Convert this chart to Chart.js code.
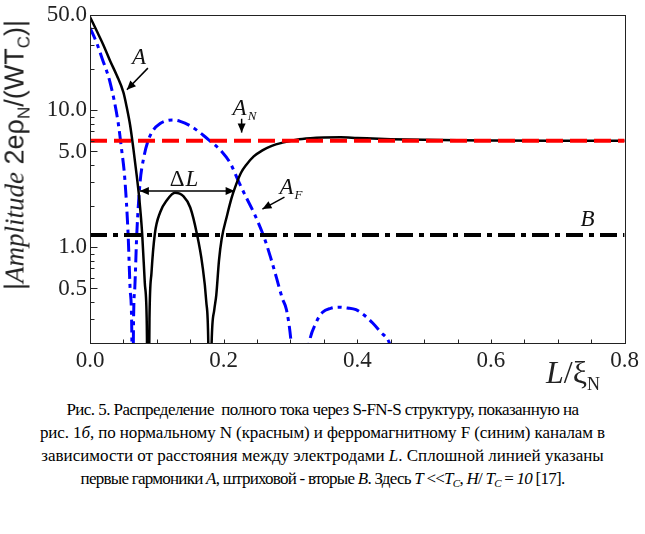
<!DOCTYPE html>
<html>
<head>
<meta charset="utf-8">
<script src="https://cdn.jsdelivr.net/npm/chart.js@4.4.0/dist/chart.umd.min.js"></script>
<style>
    body { margin: 0; background: #fff; }
    #wrap { position: relative; width: 645px; height: 534px; overflow: hidden; background: #fff; }
    #chart { position: absolute; left: 0; top: 0; }
    .serif { font-family: "Liberation Serif", "Times New Roman", Times, Tinos, "DejaVu Serif", serif; }
    .ytitle {
        position: absolute; left: 15px; top: 155px;
        transform: translate(-50%, -50%) rotate(-90deg);
        white-space: nowrap; line-height: 1;
        font-size: 27px; font-family: "Liberation Sans", Arial, Arimo, sans-serif; color: #222;
    }
    .ytitle sub { font-size: 17px; vertical-align: -6px; line-height: 0; }
    .xtitle {
        position: absolute; left: 546px; top: 356px; line-height: 1;
        font-size: 32px; color: #222; white-space: nowrap;
    }
    .xtitle sub { font-size: 18px; vertical-align: -7px; line-height: 0; }
    .caption {
        position: absolute; left: 0; top: 398px; width: 645px;
        text-align: center; white-space: nowrap;
        font-size: 17px; line-height: 23px; color: #000;
    }
    .caption div { height: 23px; }
    .caption sub { font-size: 11px; vertical-align: -3px; line-height: 0; }
</style>
</head>
<body>
<div id="wrap">
    <canvas id="chart" width="645" height="395"></canvas>
    <div class="ytitle">|<i class="serif">Amplitude</i> 2eρ<sub>N</sub>/(WT<sub>C</sub>)|</div>
    <div class="xtitle serif"><i>L</i>/ξ<sub>N</sub></div>
    <div class="caption serif">
        <div style="letter-spacing:-0.55px">Рис. 5. Распределение&nbsp; полного тока через S-FN-S структуру, показанную на</div>
        <div style="letter-spacing:-0.1px">рис. 1<i>б</i>, по нормальному N (красным) и ферромагнитному F (синим) каналам в</div>
        <div>зависимости от расстояния между электродами <i>L</i>. Сплошной линией указаны</div>
        <div style="letter-spacing:-0.75px">первые гармоники <i>A</i>, штриховой - вторые <i>B</i>. Здесь <i>T</i> &lt;&lt;<i>T<sub>C</sub></i>, <i>H</i>/ <i>T<sub>C</sub></i> = <i>10</i> [17].</div>
    </div>
</div>
<script>
    // first harmonic, total (black solid)
    const aL = [0, 0.01, 0.02, 0.03, 0.04, 0.05, 0.055, 0.06, 0.065, 0.07, 0.074, 0.078, 0.082, 0.085, 0.087,
        0.089, 0.092, 0.097, 0.105, 0.115, 0.127, 0.14, 0.15, 0.16, 0.168, 0.174, 0.177, 0.179,
        0.182, 0.186, 0.189, 0.193, 0.197, 0.205, 0.212, 0.219, 0.226, 0.234, 0.245, 0.258, 0.272, 0.288,
        0.309, 0.33, 0.35, 0.375, 0.4, 0.45, 0.5, 0.55, 0.6, 0.7, 0.8];
    const aAmp = [48, 38, 30, 23, 18, 13.5, 10.5, 7.8, 5.2, 3.3, 2.2, 1.27, 0.55, 0.27, 0.02,
        0.3, 0.65, 1.25, 1.8, 2.2, 2.5, 2.35, 1.95, 1.25, 0.75, 0.4, 0.2, 0.02,
        0.2, 0.35, 0.45, 0.8, 1.15, 1.7, 2.3, 2.9, 3.5, 4.0, 4.6, 5.1, 5.5, 5.8,
        6.1, 6.25, 6.32, 6.35, 6.28, 6.15, 6.08, 6.04, 6.02, 6.0, 6.0];

    // ferromagnetic channel (blue dash-dot)
    const afL = [0, 0.01, 0.018, 0.03, 0.042, 0.047, 0.052, 0.057, 0.06, 0.0625, 0.064,
        0.065, 0.067, 0.07, 0.075, 0.08, 0.087, 0.095, 0.105, 0.115, 0.124, 0.135, 0.15, 0.169, 0.179,
        0.197, 0.21, 0.224, 0.234, 0.246, 0.26, 0.27, 0.279, 0.288, 0.294, 0.301, 0.315,
        0.32, 0.328, 0.338, 0.348, 0.36, 0.373, 0.385, 0.398, 0.41, 0.423, 0.435, 0.448, 0.46, 0.47];
    const afAmp = [40, 31, 24, 16, 8.2, 5.3, 3.2, 1.25, 0.5, 0.25, 0.02,
        0.25, 0.5, 1.25, 3.0, 4.4, 6.0, 7.2, 8.0, 8.4, 8.5, 8.3, 7.7, 6.6, 6.0,
        5.0, 4.1, 2.9, 2.3, 1.75, 1.2, 0.85, 0.6, 0.42, 0.35, 0.2, 0.02,
        0.1, 0.2, 0.28, 0.335, 0.358, 0.365, 0.36, 0.35, 0.32, 0.28, 0.24, 0.2, 0.12, 0.03];

    const anLevel = 6.0;   // normal channel (red dashed)
    const bLevel = 1.23;   // second harmonic (black dash-dot)

    const xRange = [0, 0.8];
    const yRange = [0.2, 50];
    const yTickValues = [0.5, 1, 5, 10, 50];
    const yMinorTicks = [0.3, 0.4, 0.6, 0.7, 0.8, 0.9, 2, 3, 4, 6, 7, 8, 9, 20, 30, 40];
    const xMinorTicks = [0.05, 0.1, 0.15, 0.2, 0.25, 0.3, 0.35, 0.4, 0.45, 0.5, 0.55, 0.6, 0.65, 0.7, 0.75];

    const serifStack = '"Liberation Serif", "Times New Roman", Times, Tinos, "DejaVu Serif", serif';

    // labels on the plot: runs of [text, size, baseline shift, italic], anchored at left/baseline
    const notes = [
        { runs: [['A', 23, 0, true]], at: [0.0627, 21.7], arrow: [[0.0866, 20.3], [0.0552, 14.1]] },
        { runs: [['A', 23, 0, true], ['N', 13, 5, true]], at: [0.2134, 9.26], arrow: [[0.2269, 8.67], [0.2269, 6.87]] },
        { runs: [['Δ', 23, 0, false], ['L', 23, 0, true]], at: [0.1194, 2.79], arrow: [[0.0746, 2.57], [0.2164, 2.57]], both: true },
        { runs: [['A', 23, 0, true], ['F', 13, 5, true]], at: [0.2836, 2.44], arrow: [[0.291, 2.32], [0.258, 1.90]] },
        { runs: [['B', 23, 0, true]], at: [0.734, 1.43] }
    ];

    const toPoints = (xs, ys) => xs.map((v, i) => ({ x: v, y: ys[i] }));

    function drawHead(ctx, x1, y1, x2, y2) {
        const ang = Math.atan2(y2 - y1, x2 - x1);
        const len = 9, half = 4;
        ctx.beginPath();
        ctx.moveTo(x2, y2);
        ctx.lineTo(x2 - len * Math.cos(ang) + half * Math.sin(ang), y2 - len * Math.sin(ang) - half * Math.cos(ang));
        ctx.lineTo(x2 - len * Math.cos(ang) - half * Math.sin(ang), y2 - len * Math.sin(ang) + half * Math.cos(ang));
        ctx.closePath();
        ctx.fill();
    }

    const framePlugin = {
        id: 'frame',
        afterDraw(chart) {
            const { ctx, chartArea: area, scales: { x, y } } = chart;
            ctx.save();
            ctx.strokeStyle = '#222';
            ctx.lineWidth = 1;
            const l = Math.round(area.left) + 0.5, t = Math.round(area.top) + 0.5;
            const r = Math.round(area.right) + 0.5, b = Math.round(area.bottom) + 0.5;
            ctx.strokeRect(l, t, r - l, b - t);

            // inward tick marks
            ctx.beginPath();
            xMinorTicks.forEach(v => {
                const px = Math.round(x.getPixelForValue(v)) + 0.5;
                ctx.moveTo(px, b);
                ctx.lineTo(px, b - 4);
            });
            yTickValues.forEach(v => {
                const py = Math.round(y.getPixelForValue(v)) + 0.5;
                ctx.moveTo(l, py);
                ctx.lineTo(l + 7, py);
            });
            yMinorTicks.forEach(v => {
                const py = Math.round(y.getPixelForValue(v)) + 0.5;
                ctx.moveTo(l, py);
                ctx.lineTo(l + 4, py);
            });
            ctx.stroke();

            // annotations
            ctx.fillStyle = '#111';
            ctx.strokeStyle = '#000';
            ctx.lineWidth = 1.5;
            ctx.textBaseline = 'alphabetic';
            ctx.textAlign = 'left';
            notes.forEach(n => {
                let px = x.getPixelForValue(n.at[0]);
                const py = y.getPixelForValue(n.at[1]);
                n.runs.forEach(([txt, size, dy, it]) => {
                    ctx.font = (it ? 'italic ' : '') + size + 'px ' + serifStack;
                    ctx.fillText(txt, px, py + dy);
                    px += ctx.measureText(txt).width + (dy ? 0 : 1);
                });
                if (n.arrow) {
                    const [p1, p2] = n.arrow;
                    const x1 = x.getPixelForValue(p1[0]), y1 = y.getPixelForValue(p1[1]);
                    const x2 = x.getPixelForValue(p2[0]), y2 = y.getPixelForValue(p2[1]);
                    ctx.beginPath();
                    ctx.moveTo(x1, y1);
                    ctx.lineTo(x2, y2);
                    ctx.stroke();
                    ctx.fillStyle = '#000';
                    drawHead(ctx, x1, y1, x2, y2);
                    if (n.both) drawHead(ctx, x2, y2, x1, y1);
                    ctx.fillStyle = '#111';
                }
            });
            ctx.restore();
        }
    };

    const tickFont = { family: serifStack, size: 23, lineHeight: 1 };

    new Chart(document.getElementById('chart').getContext('2d'), {
        type: 'line',
        data: {
            datasets: [
                {
                    label: 'A_N',
                    data: toPoints(xRange, [anLevel, anLevel]),
                    borderColor: '#ff0000',
                    borderWidth: 4,
                    borderDash: [17, 7]
                },
                {
                    label: 'A',
                    data: toPoints(aL, aAmp),
                    borderColor: '#000',
                    borderWidth: 2.5,
                    cubicInterpolationMode: 'monotone'
                },
                {
                    label: 'B',
                    data: toPoints(xRange, [bLevel, bLevel]),
                    borderColor: '#000',
                    borderWidth: 4,
                    borderDash: [17, 6, 5, 6]
                },
                {
                    label: 'A_F',
                    data: toPoints(afL, afAmp),
                    borderColor: '#0000ff',
                    borderWidth: 3,
                    borderDash: [13, 5, 4, 5],
                    cubicInterpolationMode: 'monotone'
                }
            ]
        },
        options: {
            responsive: false,
            animation: false,
            clip: 0,
            layout: { padding: { left: 0, right: 18, top: 12, bottom: 0 } },
            elements: {
                point: { radius: 0 },
                line: { capBezierPoints: false, fill: false }
            },
            plugins: {
                legend: { display: false },
                tooltip: { enabled: false }
            },
            scales: {
                x: {
                    type: 'linear',
                    min: xRange[0],
                    max: xRange[1],
                    grid: { display: false, drawTicks: false },
                    border: { display: false },
                    ticks: {
                        stepSize: 0.2,
                        maxRotation: 0,
                        padding: 6,
                        color: '#222',
                        font: tickFont,
                        callback: v => Number(v).toFixed(1)
                    },
                    afterFit: s => { s.height = 52; }
                },
                y: {
                    type: 'logarithmic',
                    min: yRange[0],
                    max: yRange[1],
                    grid: { display: false, drawTicks: false },
                    border: { display: false },
                    afterBuildTicks: s => { s.ticks = yTickValues.map(v => ({ value: v })); },
                    ticks: {
                        padding: 3,
                        color: '#222',
                        font: tickFont,
                        callback: v => Number(v).toFixed(1)
                    },
                    afterFit: s => { s.width = 90; }
                }
            }
        },
        plugins: [framePlugin]
    });
</script>
</body>
</html>
